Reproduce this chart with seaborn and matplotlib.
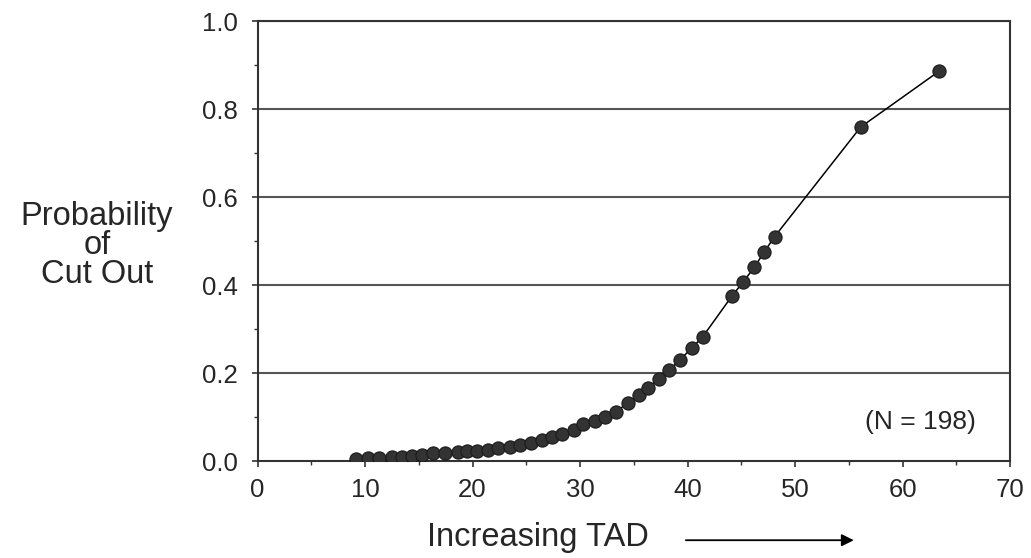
import matplotlib
matplotlib.use("Agg")
import matplotlib.pyplot as plt
import seaborn as sns
import pandas as pd
from matplotlib.ticker import MultipleLocator

# Data
tad = [9.2, 10.3, 11.3, 12.5, 13.4, 14.4, 15.3, 16.3, 17.4, 18.6, 19.5, 20.4,
       21.4, 22.4, 23.5, 24.4, 25.4, 26.5, 27.4, 28.3, 29.4, 30.3, 31.4, 32.3,
       33.3, 34.5, 35.5, 36.3, 37.3, 38.3, 39.3, 40.4, 41.4, 44.1, 45.2, 46.2,
       47.1, 48.1, 56.1, 63.4]
prob = [0.005, 0.007, 0.007, 0.009, 0.009, 0.011, 0.014, 0.018, 0.018, 0.020,
        0.023, 0.023, 0.025, 0.030, 0.032, 0.036, 0.041, 0.048, 0.055, 0.061,
        0.071, 0.084, 0.092, 0.100, 0.112, 0.132, 0.150, 0.166, 0.187, 0.207,
        0.230, 0.257, 0.282, 0.374, 0.408, 0.440, 0.474, 0.510, 0.759, 0.886]
x_ticks = [0, 10, 20, 30, 40, 50, 60, 70]
y_ticks = [0.0, 0.2, 0.4, 0.6, 0.8, 1.0]
note = "(N = 198)"

sns.set_style("white")
plt.rcParams['font.family'] = ['Liberation Sans', 'DejaVu Sans']

df = pd.DataFrame({"TAD": tad, "P": prob})

fig = plt.figure(figsize=(10.31, 5.58), dpi=100)
ax = fig.add_axes([0.2498, 0.1738, 0.7299, 0.7885])

for yv in y_ticks[1:]:
    ax.axhline(yv, color="#555555", lw=1.5, zorder=1)

sns.lineplot(data=df, x="TAD", y="P", ax=ax, color="black", lw=1.1,
             marker="o", markersize=9.5, markerfacecolor="#333333",
             markeredgecolor="#1a1a1a", markeredgewidth=0.8, zorder=3)

ax.set_xlim(0, 70)
ax.set_ylim(0, 1.0)
ax.set_xticks(x_ticks)
ax.set_yticks(y_ticks)
ax.set_yticklabels([f"{v:.1f}" for v in y_ticks])
ax.xaxis.set_minor_locator(MultipleLocator(5))
ax.yaxis.set_minor_locator(MultipleLocator(0.1))
ax.tick_params(axis="both", which="major", direction="out", length=4,
               width=1.2, color="#333333", labelsize=18.5, pad=8,
               bottom=True, left=True)
ax.tick_params(axis="both", which="minor", direction="out", length=3,
               width=1.0, color="#333333", bottom=True, left=True)
ax.tick_params(axis="y", pad=10)
for s in ax.spines.values():
    s.set_color("#333333")
    s.set_linewidth(1.5)

ax.set_xlabel("")
ax.set_ylabel("Probability\nof\nCut Out", rotation=0, fontsize=23.5,
              ha="center", va="center", linespacing=0.9)
ax.yaxis.set_label_coords(-0.2133, 0.49)

ax.text(0.373, -0.173, "Increasing TAD", transform=ax.transAxes,
        ha="center", va="center", fontsize=23.5)
ax.annotate("", xy=(0.796, -0.18), xytext=(0.5655, -0.18),
            xycoords="axes fraction", textcoords="axes fraction",
            arrowprops=dict(arrowstyle="-|>", color="black", lw=1.3,
                            mutation_scale=18))

ax.text(61.7, 0.089, note, ha="center", va="center", fontsize=19)

fig.savefig("out.png", dpi=100, facecolor="white")
